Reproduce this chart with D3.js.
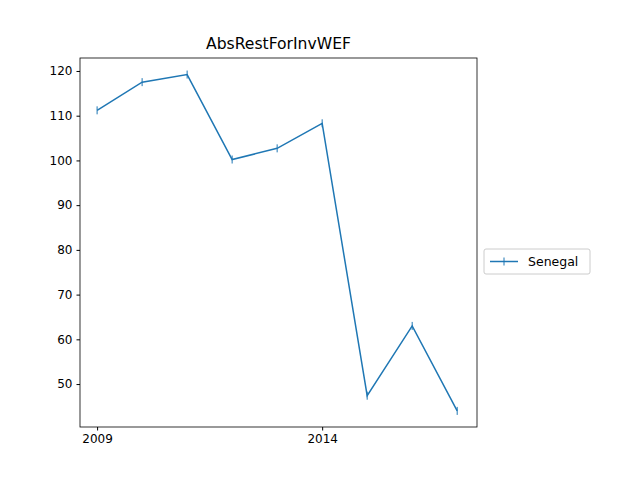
<!DOCTYPE html>
<html><head><meta charset="utf-8">
<script src="https://cdn.jsdelivr.net/npm/d3@7"></script>
<style>body{margin:0;background:#fff}text{font-family:"DejaVu Sans",sans-serif}</style>
</head><body><svg id="c" width="640" height="480"></svg>
<script>
const years = [2009, 2010, 2011, 2012, 2013, 2014, 2015, 2016, 2017];
const values = [111.2, 117.5, 119.2, 100.2, 102.7, 108.3, 47.4, 63.0, 44.0];
const yTicks = [50, 60, 70, 80, 90, 100, 110, 120];
const xTicks = [2009, 2014];

const svg = d3.select('#c');
const L = 80, R = 477, T = 58, B = 427;
const x = d3.scaleLinear().domain([2008.62, 2017.44]).range([L, R]);
const y = d3.scaleLinear().domain([40.4, 122.9]).range([B, T]);
const color = '#1f77b4';

svg.append('g').attr('transform', `translate(0,${B})`)
  .call(d3.axisBottom(x).tickValues(xTicks).tickFormat(d3.format('d')).tickSizeOuter(0).tickSize(3.5).tickPadding(4))
  .call(g => g.select('.domain').remove())
  .selectAll('text').attr('font-size', 12).attr('fill', '#000');
svg.append('g').attr('transform', `translate(${L},0)`)
  .call(d3.axisLeft(y).tickValues(yTicks).tickSizeOuter(0).tickSize(3.5).tickPadding(4))
  .call(g => g.select('.domain').remove())
  .selectAll('text').attr('font-size', 12).attr('fill', '#000');

svg.append('rect').attr('x', L).attr('y', T).attr('width', R - L).attr('height', B - T)
  .attr('fill', 'none').attr('stroke', '#000').attr('stroke-width', 0.8);

const line = d3.line().x((d, i) => x(years[i])).y(d => y(d));
svg.append('path').datum(values).attr('d', line).attr('fill', 'none')
  .attr('stroke', color).attr('stroke-width', 1.5);
svg.selectAll('.m').data(values).join('line')
  .attr('x1', (d, i) => x(years[i])).attr('x2', (d, i) => x(years[i]))
  .attr('y1', d => y(d) - 4).attr('y2', d => y(d) + 4)
  .attr('stroke', color).attr('stroke-width', 1);

svg.append('text').attr('x', (L + R) / 2).attr('y', T - 9).attr('text-anchor', 'middle')
  .attr('font-size', 15.6).text('AbsRestForInvWEF');

const lg = svg.append('g').attr('transform', 'translate(484,249)');
lg.append('rect').attr('width', 106).attr('height', 25).attr('rx', 2)
  .attr('fill', '#fff').attr('stroke', '#ccc');
lg.append('line').attr('x1', 6).attr('x2', 34).attr('y1', 12.5).attr('y2', 12.5)
  .attr('stroke', color).attr('stroke-width', 1.5);
lg.append('line').attr('x1', 20).attr('x2', 20).attr('y1', 8.5).attr('y2', 16.5)
  .attr('stroke', color).attr('stroke-width', 1);
lg.append('text').attr('x', 44).attr('y', 17).attr('font-size', 12.5).text('Senegal');
</script></body></html>
